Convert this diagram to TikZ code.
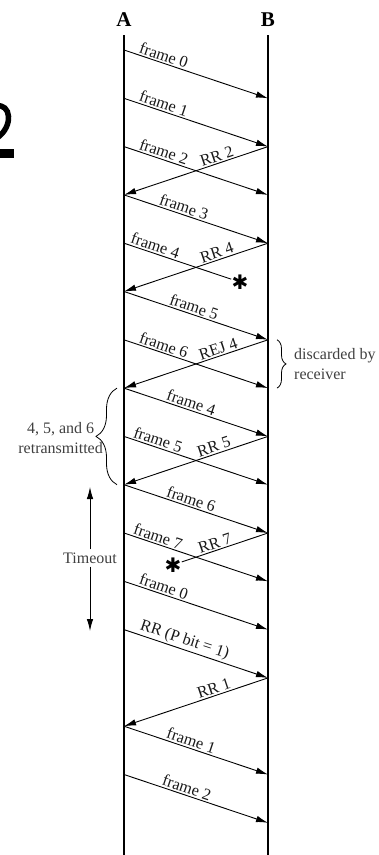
\documentclass[tikz,border=0pt]{standalone}
\usepackage{fontspec}
\setmainfont{Liberation Serif}
\newfontfamily\djv{DejaVu Sans}
\usetikzlibrary{arrows.meta,decorations.pathreplacing,calc}
\begin{document}
\begin{tikzpicture}[x=1pt,y=-1pt,
  life/.style={line width=1.1pt},
  msg/.style={line width=0.9pt,-{Latex[length=12pt,width=6.5pt]}},
  lost/.style={line width=0.9pt},
  lbl/.style={sloped,anchor=south,inner sep=1.5pt,font=\fontsize{16.3}{17}\selectfont,text=black!90},
  note/.style={font=\fontsize{16}{19.5}\selectfont,text=black!75,align=center,inner sep=0pt},
  hdr/.style={font=\fontsize{21}{22}\selectfont\bfseries,inner sep=0pt},
  starmark/.style={font=\djv\fontsize{20}{20}\selectfont,inner sep=0.3pt},
  brc/.style={decorate,line width=0.8pt}
]
\clip (0,0) rectangle (378,855);
% clipped fragment at the left edge
\draw[line width=5.5pt] (-4,106) .. controls (11,103) and (14,126) .. (-3,138);
\fill (0,149) rectangle (14,158);
% lifelines
\node[hdr] (A) at (124,20) {A};
\node[hdr] (B) at (268,20) {B};
\coordinate (Atop) at (124,35); \coordinate (Abot) at (124,856);
\coordinate (Btop) at (268,35); \coordinate (Bbot) at (268,856);
\draw[life] (Atop) -- (Abot);
\draw[life] (Btop) -- (Bbot);
\foreach \k in {0,...,16}{
  \coordinate (a\k) at (124,{50+48.3*\k});
  \coordinate (b\k) at (268,{50+48.3*\k});
}
% messages
\draw[msg] (a0) -- node[lbl,pos=0.26]{frame 0} (b1);
\draw[msg] (a1) -- node[lbl,pos=0.26]{frame 1} (b2);
\draw[msg] (a2) -- node[lbl,pos=0.26]{frame 2} (b3);
\draw[msg] (b2) -- node[lbl,pos=0.34]{RR 2} (a3);
\draw[msg] (a3) -- node[lbl,pos=0.40]{frame 3} (b4);
\node[starmark] (s1) at ($(a4)!0.806!(b5)$) {✱};
\draw[lost] (a4) -- node[lbl,pos=0.27]{frame 4} (s1);
\draw[msg] (b4) -- node[lbl,pos=0.34]{RR 4} (a5);
\draw[msg] (a5) -- node[lbl,pos=0.47]{frame 5} (b6);
\draw[msg] (a6) -- node[lbl,pos=0.26]{frame 6} (b7);
\draw[msg] (b6) -- node[lbl,pos=0.33]{REJ 4} (a7);
\draw[msg] (a7) -- node[lbl,pos=0.45]{frame 4} (b8);
\draw[msg] (a8) -- node[lbl,pos=0.22]{frame 5} (b9);
\draw[msg] (b8) -- node[lbl,pos=0.36]{RR 5} (a9);
\draw[msg] (a9) -- node[lbl,pos=0.45]{frame 6} (b10);
\draw[msg] (a10) -- node[lbl,pos=0.22]{frame 7} (b11);
\node[starmark] (s2) at ($(b10)!0.66!(a11)$) {✱};
\draw[lost] (b10) -- node[lbl,pos=0.59]{RR 7} (s2);
\draw[msg] (a11) -- node[lbl,pos=0.26]{frame 0} (b12);
\draw[msg] (a12) -- node[lbl,pos=0.40]{RR (P bit = 1)} (b13);
\draw[msg] (b13) -- node[lbl,pos=0.36]{RR 1} (a14);
\draw[msg] (a14) -- node[lbl,pos=0.45]{frame 1} (b15);
\draw[msg] (a15) -- node[lbl,pos=0.42]{frame 2} (b16);
% braces and notes
\draw[brc,decoration={brace,amplitude=9pt}] ([xshift=9pt]b6) -- ([xshift=9pt]b7);
\node[note,anchor=west,align=left] (disc) at (294,364) {discarded by\\receiver};
\draw[brc,decoration={brace,amplitude=21pt}] ([xshift=-7pt]a9) -- ([xshift=-7pt]a7);
\node[note,anchor=east] (retx) at (103,438) {4, 5, and 6\\retransmitted};
% timeout
\node[note,inner sep=3pt] (tmo) at (90,558) {Timeout};
\coordinate (ttop) at (90,487);
\coordinate (tbot) at (90,631);
\draw[msg] (tmo) -- (ttop);
\draw[msg] (tmo) -- (tbot);
\end{tikzpicture}
\end{document}
